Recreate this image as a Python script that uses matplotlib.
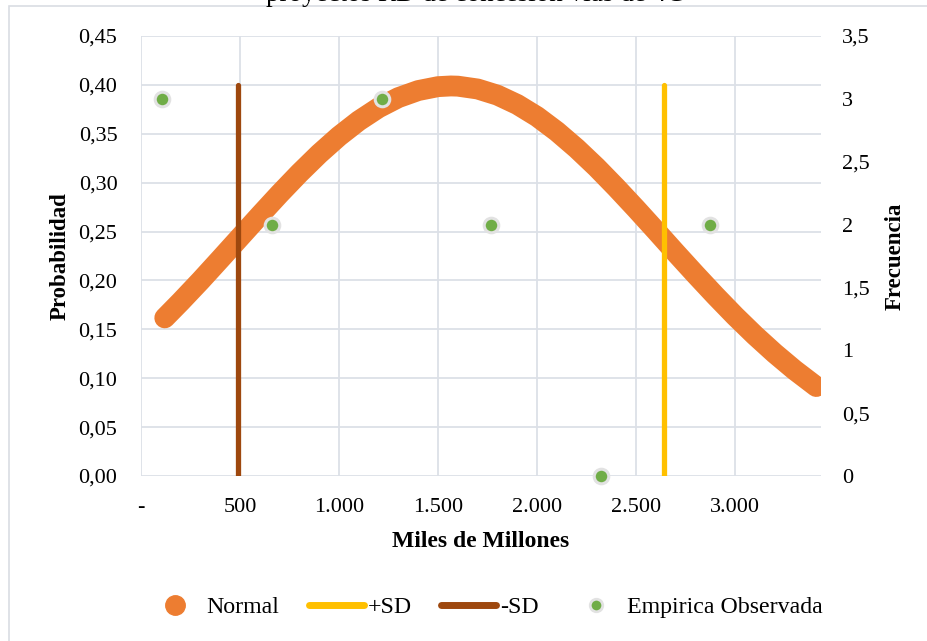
import matplotlib
matplotlib.use("Agg")
import matplotlib.pyplot as plt
from matplotlib.lines import Line2D
from matplotlib.patches import Rectangle
from matplotlib.ticker import FuncFormatter, MultipleLocator

# --- data -------------------------------------------------------------
normal_x = [120, 200, 300, 400, 500, 600, 700, 800, 900, 1000, 1100, 1200,
            1300, 1400, 1500, 1565, 1600, 1700, 1800, 1900, 2000, 2100,
            2200, 2300, 2400, 2500, 2600, 2700, 2800, 2900, 3000, 3100,
            3200, 3300, 3410]
normal_p = [0.1617, 0.1782, 0.1996, 0.2218, 0.2442, 0.2666, 0.2886, 0.3097,
            0.3295, 0.3475, 0.3633, 0.3766, 0.3870, 0.3942, 0.3982, 0.3989,
            0.3987, 0.3958, 0.3895, 0.3800, 0.3676, 0.3524, 0.3350, 0.3158,
            0.2950, 0.2733, 0.2510, 0.2284, 0.2062, 0.1845, 0.1636, 0.1439,
            0.1255, 0.1085, 0.0915]

sd_minus_x = 490
sd_plus_x = 2640
sd_height = [0.0, 0.40]

emp_x = [106, 662, 1217, 1768, 2323, 2874]
emp_freq = [3, 2, 3, 2, 0, 2]

x_ticks = [0, 500, 1000, 1500, 2000, 2500, 3000]
title_text = "proyectos RD de concesión vías de 4G"

# --- colours ------------------------------------------------------------
C_NORMAL = "#ED7D31"
C_PLUS = "#FFC000"
C_MINUS = "#9E480E"
C_EMP = "#70AD47"
C_GRID = "#DCE0E7"

plt.rcParams["font.family"] = ["Liberation Serif", "DejaVu Serif"]

W, H = 927, 641
fig = plt.figure(figsize=(W / 100, H / 100), dpi=100)

# chart frame
fig.patches.append(Rectangle((9 / W, -0.05), 1.1, 1 - 6 / H + 0.05,
                             transform=fig.transFigure, fill=False,
                             edgecolor="#D9DDE3", linewidth=1.2))

# title (sits above the frame, mostly outside the canvas)
fig.text(476 / W, 1 - 1.0 / H, title_text, ha="center", va="baseline",
         fontsize=19.5)

ax = fig.add_axes([141 / W, (H - 476) / H, 680 / W, 440 / H])
ax.set_xlim(0, 3434)
ax.set_ylim(0, 0.45)
ax.set_xticks(x_ticks)
ax.yaxis.set_major_locator(MultipleLocator(0.05))
ax.grid(True, color=C_GRID, linewidth=1.3)
ax.set_axisbelow(True)
for s in ax.spines.values():
    s.set_visible(False)
ax.tick_params(length=0, labelsize=16)
ax.tick_params(axis="y", pad=17)
ax.tick_params(axis="x", pad=16)


def fmt_x(v, _):
    if v == 0:
        return "-"
    return f"{int(v):,}".replace(",", ".")


ax.xaxis.set_major_formatter(FuncFormatter(fmt_x))
ax.yaxis.set_major_formatter(FuncFormatter(lambda v, _: f"{v:.2f}".replace(".", ",")))

ax.plot(normal_x, normal_p, color=C_NORMAL, linewidth=15,
        solid_capstyle="round", solid_joinstyle="round", zorder=2)
ax.plot([sd_minus_x, sd_minus_x], sd_height, color=C_MINUS, linewidth=3.8,
        solid_capstyle="round", zorder=3)
ax.plot([sd_plus_x, sd_plus_x], sd_height, color=C_PLUS, linewidth=3.8,
        solid_capstyle="round", zorder=3)

ax.set_xlabel("Miles de Millones", fontsize=17, fontweight="bold", labelpad=10)
ax.set_ylabel("Probabilidad", fontsize=16.5, fontweight="bold", labelpad=6)

ax2 = ax.twinx()
ax2.set_ylim(0, 3.5)
ax2.yaxis.set_major_locator(MultipleLocator(0.5))
ax2.yaxis.set_major_formatter(
    FuncFormatter(lambda v, _: (f"{v:g}").replace(".", ",")))
for s in ax2.spines.values():
    s.set_visible(False)
ax2.tick_params(length=0, labelsize=16, pad=15)
ax2.scatter(emp_x, emp_freq, s=110, color=C_EMP, edgecolors="#E2E2E2",
            linewidths=2.2, zorder=5, clip_on=False)
ax2.set_ylabel("Frecuencia", fontsize=16.5, fontweight="bold", labelpad=11)

handles = [
    Line2D([], [], marker="o", linestyle="none", markersize=14,
           color=C_NORMAL),
    Line2D([], [], color=C_PLUS, linewidth=5, solid_capstyle="round"),
    Line2D([], [], color=C_MINUS, linewidth=5, solid_capstyle="round"),
    Line2D([], [], marker="o", linestyle="none", markersize=9,
           color=C_EMP, markeredgecolor="#E2E2E2", markeredgewidth=2),
]
labels = ["Normal", "+SD", "-SD", "Empirica Observada"]
fig.legend(handles, labels, loc="center", bbox_to_anchor=(485 / W, 1 - 607 / H),
           ncol=4, frameon=False, fontsize=17.2, handlelength=2.3,
           handletextpad=0.15, columnspacing=1.25)

fig.savefig("out.png", dpi=100)
